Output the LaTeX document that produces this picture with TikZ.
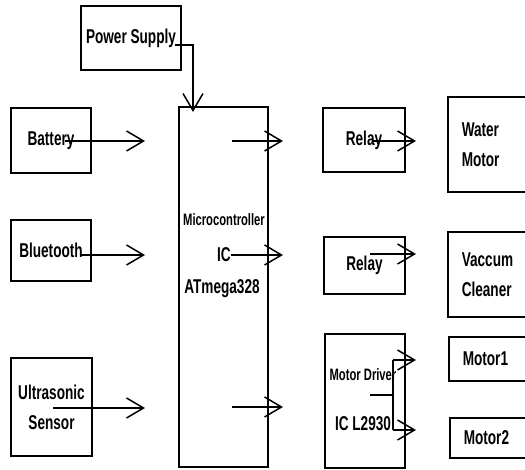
\documentclass[tikz,border=0pt]{standalone}
\usepackage{fontspec}
\setmainfont[FakeStretch=0.68]{Liberation Sans}
\usetikzlibrary{arrows.meta}
\begin{document}
\begin{tikzpicture}[x=1pt, y=-1pt,
  blk/.style={draw, line width=1.5pt, inner sep=0pt, align=center, font=\bfseries\fontsize{20}{30}\selectfont},
  rblk/.style={blk, anchor=west, align=left, text width=62pt, inner xsep=14pt},
  txt/.style={inner sep=0pt, font=\bfseries\fontsize{20}{24}\selectfont},
  small/.style={inner sep=0pt, font=\bfseries\fontsize{16.5}{20}\selectfont},
  arr/.style={line width=1.5pt, -{Straight Barb[length=17pt, width=20pt, line width=1.5pt]}},
  wire/.style={line width=1.1pt}]
\useasboundingbox (0,0) rectangle (525,470);
\clip (0,0) rectangle (525,470);
% inputs
\node[blk, minimum width=100, minimum height=64] (PS) at (131,38) {Power Supply};
\node[blk, minimum width=80, minimum height=65] (Bat) at (51,140.5) {Battery};
\node[blk, minimum width=80, minimum height=61] (BT) at (51,250.5) {Bluetooth};
\node[blk, minimum width=81, minimum height=98] (US) at (51.5,407) {Ultrasonic\\Sensor};
% controller
\node[blk, minimum width=89, minimum height=360] (MC) at (223.5,287) {};
\node[small] (MCt) at (224,220) {Microcontroller};
\node[txt] (IC) at (224,255) {IC};
\node[txt] (AT) at (222,289) {ATmega328};
% outputs
\node[blk, minimum width=82, minimum height=64] (R1) at (364,140) {Relay};
\node[blk, minimum width=81, minimum height=57] (R2) at (364.5,265.5) {Relay};
\node[blk, minimum width=80, minimum height=134] (MD) at (365,401) {};
\node[small] (MDt) at (363,375) {Motor Driver};
\node[txt] (MDic) at (363,424) {IC L2930};
\node[rblk, minimum height=95] (WM) at (447,144.5) {Water\\Motor};
\node[rblk, minimum height=85] (VC) at (447,274.5) {Vaccum\\Cleaner};
\node[rblk, minimum height=44] (M1) at (448,359) {Motor1};
\node[rblk, minimum height=40] (M2) at (449,438) {Motor2};
% arrow ends
\coordinate (PSout) at (175,45);
\coordinate (MCtop) at (193,112);
\coordinate (BatOut) at (65,141);
\coordinate (BatIn) at (145,141);
\coordinate (BTOut) at (80,255);
\coordinate (BTIn) at (145,255);
\coordinate (USOut) at (53,408);
\coordinate (USIn) at (145,408);
\coordinate (MCo1) at (232,141);
\coordinate (R1in) at (283,141);
\coordinate (R2in) at (283,255);
\coordinate (MCo3) at (232,407);
\coordinate (MDin) at (283,407);
\coordinate (R1out) at (373,141);
\coordinate (WMin) at (416,141);
\coordinate (R2out) at (370,254);
\coordinate (VCin) at (416,254);
\coordinate (MDsrc) at (370,395);
\coordinate (MDfork) at (393,395);
\coordinate (MDtop) at (393,360);
\coordinate (MDbot) at (393,430);
\coordinate (M1in) at (416,360);
\coordinate (M2in) at (416,430);
% connectors
\draw[arr] (PSout) -| (MCtop);
\draw[arr] (BatOut) -- (BatIn);
\draw[arr] (BTOut) -- (BTIn);
\draw[arr] (USOut) -- (USIn);
\draw[arr] (MCo1) -- (R1in);
\draw[arr] (IC.east) -- (R2in);
\draw[arr] (MCo3) -- (MDin);
\draw[arr] (R1out) -- (WMin);
\draw[arr] (R2out) -- (VCin);
\draw[wire] (MDsrc) -- (MDfork);
\draw[wire] (MDtop) -- (MDbot);
\draw[arr] (MDtop) -- (M1in);
\draw[arr] (MDbot) -- (M2in);
\end{tikzpicture}
\end{document}
